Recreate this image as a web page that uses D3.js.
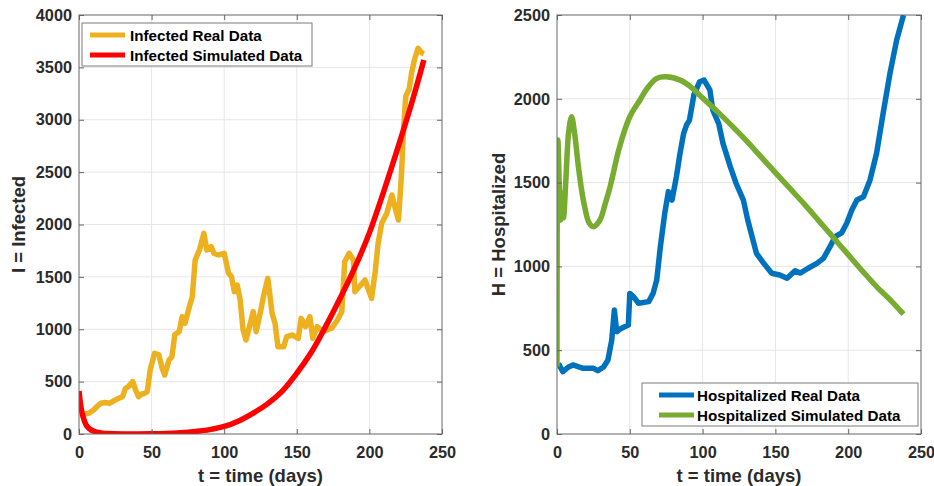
<!DOCTYPE html>
<html>
<head>
<meta charset="utf-8">
<script src="https://cdn.jsdelivr.net/npm/d3@7"></script>
<style>
  body { margin: 0; background: #fff; }
  svg { display: block; font-family: "Liberation Sans", Arial, sans-serif; font-weight: bold; }
</style>
</head>
<body>
<svg id="canvas" width="934" height="486"></svg>
<script>
// ---- data ----
let xTicks = [0, 50, 100, 150, 200, 250];
let infectedTicks = [0, 500, 1000, 1500, 2000, 2500, 3000, 3500, 4000];
let hospTicks = [0, 500, 1000, 1500, 2000, 2500];

let infRealDays = [4, 7, 10, 13, 15, 18, 21, 25, 28, 30, 32, 34, 37, 39, 41, 43, 45, 47, 49, 52, 55, 57, 59, 62, 64, 66, 69, 71, 73, 76, 78, 80, 83, 86, 88, 91, 93, 96, 100, 103, 105, 107, 109, 111, 113, 115, 118, 120, 122, 125, 127, 130, 133, 135, 137, 141, 143, 147, 151, 153, 156, 159, 161, 164, 168, 174, 178, 181, 183, 186, 189, 190, 193, 197, 199, 201.5, 204, 206, 208.5, 212, 215.5, 217.5, 220, 222, 223.5, 225, 227.5, 229, 231, 233.5, 236, 237.5];
let infRealVals = [190, 200, 229, 270, 293, 300, 293, 325, 345, 356, 436, 452, 500, 420, 356, 380, 388, 404, 611, 770, 755, 640, 563, 706, 738, 950, 977, 1120, 1057, 1215, 1311, 1661, 1757, 1916, 1757, 1788, 1725, 1710, 1725, 1534, 1502, 1359, 1422, 1279, 993, 897, 1057, 1168, 977, 1168, 1311, 1486, 1152, 1057, 834, 834, 929, 945, 913, 1104, 1025, 1120, 913, 1025, 977, 1009, 1088, 1168, 1645, 1725, 1661, 1359, 1406, 1470, 1390, 1295, 1550, 1820, 2011, 2107, 2282, 2170, 2043, 2456, 2902, 3220, 3300, 3443, 3570, 3682, 3640, 3630];

let infSimDays = [0, 1, 2, 3, 4, 5, 6, 8, 10, 13, 16, 20, 30, 40, 50, 60, 70, 80, 90, 100, 110, 120, 130, 140, 150, 160, 170, 180, 190, 200, 210, 220, 230, 237.5];
let infSimVals = [410, 290, 210, 155, 115, 85, 65, 42, 28, 15, 8, 4, 1, 1, 2, 5, 12, 24, 42, 72, 125, 200, 290, 410, 580, 780, 1030, 1300, 1590, 1920, 2320, 2750, 3200, 3570];

let hospRealDays = [1, 4, 8, 11, 15, 18, 25, 28, 32, 35, 37.6, 39.4, 41, 44, 49, 50, 52.5, 56, 63, 66, 68.5, 71, 74, 76.5, 79, 82, 84.5, 87, 89, 91, 94, 98, 101, 105, 107, 111, 114, 119, 123, 128, 131, 134, 137, 142, 147.5, 153, 158, 163.5, 167, 172.5, 178.5, 183, 187.5, 191, 195.5, 199, 202.5, 206, 210.5, 215, 219.5, 224, 228.7, 233.3, 238];
let hospRealVals = [420, 372, 400, 412, 400, 392, 392, 378, 400, 441, 561, 740, 610, 630, 650, 839, 820, 780, 790, 839, 919, 1118, 1317, 1446, 1396, 1535, 1675, 1794, 1844, 1873, 2023, 2102, 2112, 2053, 1933, 1854, 1734, 1595, 1496, 1396, 1277, 1177, 1078, 1018, 959, 949, 929, 974, 960, 989, 1018, 1048, 1118, 1177, 1200, 1257, 1337, 1396, 1416, 1516, 1675, 1914, 2152, 2351, 2500];

let hospSimDays = [0, 0.6, 1.5, 2.5, 3.5, 4.5, 6, 8, 10, 12, 14.7, 17, 19, 22, 25, 29.5, 33, 36.5, 43, 50, 57, 62, 68.5, 75, 85, 92, 100, 110, 120, 130, 140, 150, 160, 170, 180, 190, 200, 210, 220, 230, 238];
let hospSimVals = [402, 1754, 1500, 1277, 1440, 1290, 1500, 1800, 1893, 1800, 1595, 1450, 1356, 1260, 1237, 1277, 1370, 1476, 1714, 1893, 1993, 2063, 2122, 2132, 2110, 2070, 2005, 1925, 1840, 1750, 1655, 1560, 1465, 1370, 1270, 1170, 1070, 970, 875, 790, 715];

let canvas = d3.select("#canvas");

let zip = (days, vals) => days.map((d, i) => [d, vals[i]]);

let drawPanel = (p) => {
  let w = p.right - p.left;
  let h = p.bottom - p.top;
  let xScale = d3.scaleLinear().domain([0, 250]).range([0, w]);
  let yScale = d3.scaleLinear().domain([0, p.yMax]).range([h, 0]);

  let g = canvas.append("g").attr("transform", "translate(" + p.left + "," + p.top + ")");

  g.append("clipPath").attr("id", p.id + "-clip")
    .append("rect").attr("width", w).attr("height", h);

  // grid
  g.append("g").selectAll("line").data(xTicks.slice(1, -1)).enter().append("line")
    .attr("x1", (d) => xScale(d)).attr("x2", (d) => xScale(d))
    .attr("y1", 0).attr("y2", h)
    .attr("stroke", "#e6e6e6");
  g.append("g").selectAll("line").data(p.yTicks.slice(1, -1)).enter().append("line")
    .attr("y1", (d) => yScale(d)).attr("y2", (d) => yScale(d))
    .attr("x1", 0).attr("x2", w)
    .attr("stroke", "#e6e6e6");

  // lines, real first then simulated on top
  let line = d3.line().x((d) => xScale(d[0])).y((d) => yScale(d[1]));
  p.series.forEach((s) => {
    g.append("path")
      .datum(zip(s.days, s.vals))
      .attr("clip-path", "url(#" + p.id + "-clip)")
      .attr("fill", "none")
      .attr("stroke", s.color)
      .attr("stroke-width", 5.5)
      .attr("stroke-linejoin", "round")
      .attr("d", line.curve(s.smooth ? d3.curveCatmullRom.alpha(0.5) : d3.curveLinear));
  });

  // axes with inward ticks on all four sides
  let fmt = d3.format("d");
  let styleAxis = (sel) => {
    sel.select(".domain").remove();
    sel.selectAll(".tick line").attr("stroke", "#666");
    sel.selectAll("text").attr("fill", "#2b2b2b").style("font-size", "16.3px").style("font-weight", "bold")
      .style("font-family", "'Liberation Sans', Arial, sans-serif");
  };
  g.append("g").attr("transform", "translate(0," + h + ")")
    .call(d3.axisBottom(xScale).tickValues(xTicks).tickFormat(fmt).tickSize(-5).tickPadding(12))
    .call(styleAxis);
  g.append("g")
    .call(d3.axisTop(xScale).tickValues(xTicks).tickSize(-5).tickFormat(""))
    .call(styleAxis);
  g.append("g")
    .call(d3.axisLeft(yScale).tickValues(p.yTicks).tickFormat(fmt).tickSize(-5).tickPadding(7))
    .call(styleAxis);
  g.append("g").attr("transform", "translate(" + w + ",0)")
    .call(d3.axisRight(yScale).tickValues(p.yTicks).tickSize(-5).tickFormat(""))
    .call(styleAxis);

  g.append("rect").attr("width", w).attr("height", h)
    .attr("fill", "none").attr("stroke", "#666").attr("stroke-width", 1);

  // axis titles
  g.append("text")
    .attr("x", w / 2).attr("y", h + 48)
    .attr("text-anchor", "middle")
    .attr("fill", "#2b2b2b").style("font-size", "18.5px")
    .text("t = time (days)");
  g.append("text")
    .attr("transform", "translate(" + p.yLabelX + "," + h / 2 + ") rotate(-90)")
    .attr("text-anchor", "middle")
    .attr("fill", "#2b2b2b").style("font-size", "18.5px")
    .text(p.yLabel);

  // legend
  let lg = canvas.append("g").attr("transform", "translate(" + p.legend.x + "," + p.legend.y + ")");
  lg.append("rect").attr("width", p.legend.w).attr("height", p.legend.h)
    .attr("fill", "#fff").attr("stroke", "#7a7a7a").attr("stroke-width", 1);
  p.series.forEach((s, i) => {
    let yy = 12 + i * 20;
    lg.append("line")
      .attr("x1", p.legend.lineX).attr("x2", p.legend.lineX + 35)
      .attr("y1", yy).attr("y2", yy)
      .attr("stroke", s.color).attr("stroke-width", 5);
    lg.append("text")
      .attr("x", p.legend.textX).attr("y", yy + 5.5)
      .attr("fill", "#000").style("font-size", "15.2px")
      .text(s.name);
  });
};

drawPanel({
  id: "inf", left: 79, right: 442, top: 15, bottom: 434,
  yMax: 4000, yTicks: infectedTicks, yLabel: "I = Infected", yLabelX: -54,
  legend: { x: 82, y: 23, w: 230, h: 43, lineX: 8, textX: 48 },
  series: [
    { name: "Infected Real Data", days: infRealDays, vals: infRealVals, color: "#EDB120", smooth: false },
    { name: "Infected Simulated Data", days: infSimDays, vals: infSimVals, color: "#FF0000", smooth: true }
  ]
});

drawPanel({
  id: "hosp", left: 557, right: 921, top: 15, bottom: 434,
  yMax: 2500, yTicks: hospTicks, yLabel: "H = Hospitalized", yLabelX: -52,
  legend: { x: 642, y: 383, w: 276, h: 43, lineX: 17, textX: 55 },
  series: [
    { name: "Hospitalized Real Data", days: hospRealDays, vals: hospRealVals, color: "#0072BD", smooth: false },
    { name: "Hospitalized Simulated Data", days: hospSimDays, vals: hospSimVals, color: "#77AC30", smooth: true }
  ]
});
</script>
</body>
</html>
